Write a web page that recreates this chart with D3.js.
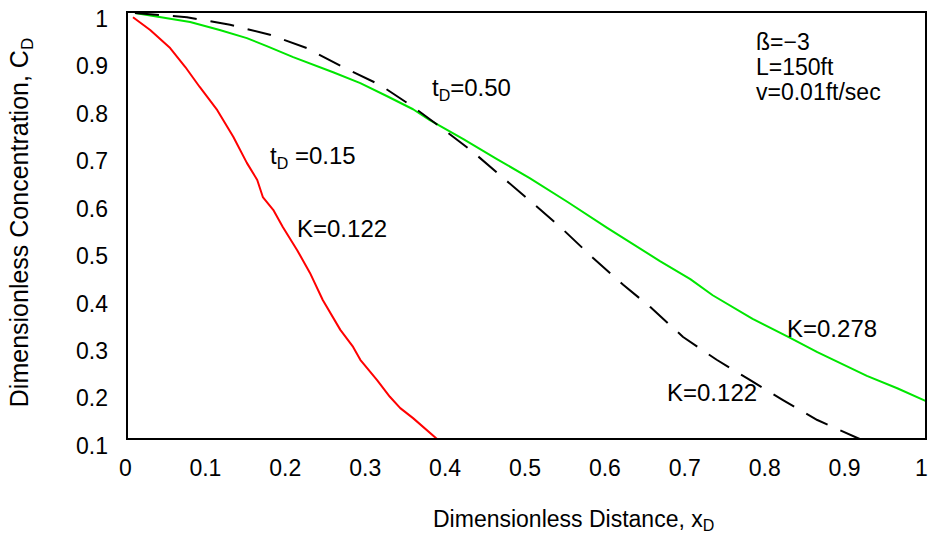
<!DOCTYPE html>
<html>
<head>
<meta charset="utf-8">
<script src="https://cdn.jsdelivr.net/npm/d3@7"></script>
<style>
  body { margin: 0; background: #fff; }
  text { font-family: "Liberation Sans", Arial, Helvetica, sans-serif; fill: #000; }
</style>
</head>
<body>
<script>
// Constants
const SVG_WIDTH = 928;
const SVG_HEIGHT = 536;
const MARGIN = { top: 12, right: 2, bottom: 97, left: 127 };
const CHART_WIDTH = SVG_WIDTH - MARGIN.left - MARGIN.right;
const CHART_HEIGHT = SVG_HEIGHT - MARGIN.top - MARGIN.bottom;

// Tick labels
const xTicks = [0, 0.1, 0.2, 0.3, 0.4, 0.5, 0.6, 0.7, 0.8, 0.9, 1];
const yTicks = [0.1, 0.2, 0.3, 0.4, 0.5, 0.6, 0.7, 0.8, 0.9, 1];

// tD=0.15, K=0.122 (red)
const redX = [0.0075, 0.029, 0.054, 0.073, 0.091, 0.113, 0.133, 0.150, 0.163, 0.170, 0.183, 0.195,
  0.213, 0.229, 0.245, 0.267, 0.283, 0.292, 0.313, 0.329, 0.342, 0.358, 0.388];
const redY = [0.989, 0.962, 0.924, 0.884, 0.842, 0.793, 0.737, 0.682, 0.646, 0.610, 0.583, 0.547,
  0.498, 0.450, 0.393, 0.330, 0.294, 0.267, 0.224, 0.189, 0.165, 0.144, 0.100];

// tD=0.50, K=0.278 (green)
const greenX = [0.010, 0.079, 0.116, 0.150, 0.175, 0.208, 0.258, 0.292, 0.325, 0.358, 0.379, 0.421,
  0.463, 0.504, 0.551, 0.601, 0.667, 0.705, 0.733, 0.783, 0.830, 0.864, 0.926, 0.964, 1.0];
const greenY = [0.998, 0.979, 0.962, 0.945, 0.928, 0.905, 0.873, 0.850, 0.823, 0.795, 0.772, 0.732,
  0.690, 0.650, 0.600, 0.545, 0.475, 0.437, 0.403, 0.353, 0.313, 0.283, 0.233, 0.207, 0.180];

// tD=0.50, K=0.122 (dashed)
const dashX = [0.010, 0.075, 0.129, 0.179, 0.225, 0.270, 0.317, 0.358, 0.392, 0.433, 0.471, 0.508,
  0.546, 0.583, 0.621, 0.655, 0.696, 0.738, 0.780, 0.821, 0.864, 0.917];
const dashY = [0.998, 0.989, 0.973, 0.952, 0.924, 0.884, 0.846, 0.800, 0.758, 0.705, 0.650, 0.597,
  0.541, 0.482, 0.425, 0.378, 0.315, 0.267, 0.224, 0.182, 0.140, 0.100];

const series = [
  { xs: redX, ys: redY, color: "#ff0000", dash: null },
  { xs: greenX, ys: greenY, color: "#00e600", dash: null },
  { xs: dashX, ys: dashY, color: "#000000", dash: "24,14" }
];

// Create SVG container
const svg = d3.select("body")
  .append("svg")
  .attr("width", SVG_WIDTH)
  .attr("height", SVG_HEIGHT);

const chartGroup = svg.append("g")
  .attr("transform", `translate(${MARGIN.left}, ${MARGIN.top})`);

// Scales
const xScale = d3.scaleLinear().domain([0, 1]).range([0, CHART_WIDTH]);
const yScale = d3.scaleLinear().domain([0.1, 1]).range([CHART_HEIGHT, 0]);

// Axes (labels only, no tick marks)
const xAxis = d3.axisBottom(xScale)
  .tickValues(xTicks)
  .tickSize(0)
  .tickPadding(21)
  .tickFormat(d => d === 0 ? "0" : d === 1 ? "1" : d3.format(".1f")(d));

const yAxis = d3.axisLeft(yScale)
  .tickValues(yTicks)
  .tickSize(0)
  .tickPadding(19)
  .tickFormat(d => d === 1 ? "1" : d3.format(".1f")(d));

const gx = chartGroup.append("g")
  .attr("transform", `translate(0, ${CHART_HEIGHT})`)
  .call(xAxis);
gx.select(".domain").remove();
gx.selectAll("text")
  .attr("font-size", 23)
  .attr("font-family", null)
  .attr("dx", d => d === 1 ? -5 : -2);

const gy = chartGroup.append("g").call(yAxis);
gy.select(".domain").remove();
gy.selectAll("text")
  .attr("font-size", 23)
  .attr("font-family", null)
  .attr("dy", "0.32em")
  .attr("transform", "translate(0, 7)");

// Lines
const line = d3.line()
  .x(d => xScale(d[0]))
  .y(d => yScale(d[1]));

series.forEach(s => {
  chartGroup.append("path")
    .datum(d3.zip(s.xs, s.ys))
    .attr("fill", "none")
    .attr("stroke", s.color)
    .attr("stroke-width", 2)
    .attr("stroke-linejoin", "round")
    .attr("stroke-dasharray", s.dash)
    .attr("d", line);
});

// Frame
chartGroup.append("rect")
  .attr("x", 0)
  .attr("y", 0)
  .attr("width", CHART_WIDTH)
  .attr("height", CHART_HEIGHT)
  .attr("fill", "none")
  .attr("stroke", "#000")
  .attr("stroke-width", 2);

// Annotations
function subLabel(x, y, main, sub, rest) {
  const t = svg.append("text")
    .attr("x", x)
    .attr("y", y)
    .attr("font-size", 24);
  t.append("tspan").text(main);
  t.append("tspan").attr("font-size", 16).attr("dy", 5).text(sub);
  t.append("tspan").attr("dy", -5).text(rest);
  return t;
}

subLabel(270, 164, "t", "D", " =0.15");
subLabel(432, 96, "t", "D", "=0.50");

svg.append("text").attr("x", 297).attr("y", 237).attr("font-size", 24).text("K=0.122");
svg.append("text").attr("x", 667).attr("y", 401).attr("font-size", 24).text("K=0.122");
svg.append("text").attr("x", 787).attr("y", 337).attr("font-size", 24).text("K=0.278");

const params = ["ß=\u22123", "L=150ft", "v=0.01ft/sec"];
svg.append("g").selectAll("text")
  .data(params)
  .enter()
  .append("text")
  .attr("x", 756)
  .attr("y", (d, i) => 50 + i * 25)
  .attr("font-size", 23)
  .text(d => d);

// Axis titles
const xt = svg.append("text")
  .attr("x", 433)
  .attr("y", 527)
  .attr("font-size", 23);
xt.append("tspan").text("Dimensionless Distance, x");
xt.append("tspan").attr("font-size", 16).attr("dy", 4).text("D");

const yt = svg.append("text")
  .attr("transform", `translate(28, ${MARGIN.top + CHART_HEIGHT / 2 - 3}) rotate(-90)`)
  .attr("text-anchor", "middle")
  .attr("font-size", 25);
yt.append("tspan").text("Dimensionless Concentration, C");
yt.append("tspan").attr("font-size", 17).attr("dy", 5).text("D");
</script>
</body>
</html>
